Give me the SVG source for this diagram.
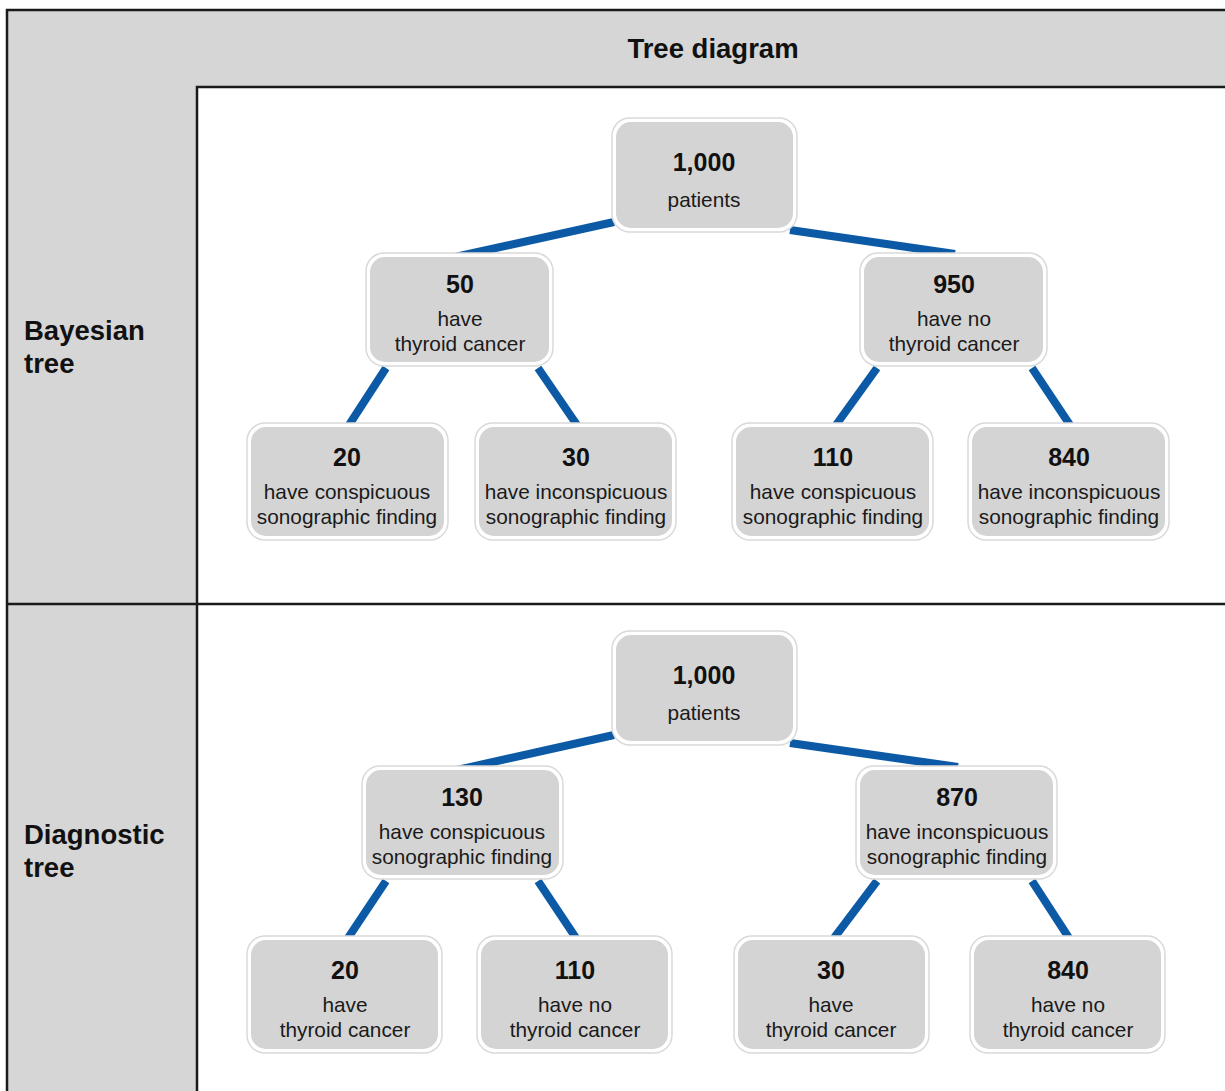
<svg xmlns="http://www.w3.org/2000/svg" width="1225" height="1091" viewBox="0 0 1225 1091">
<style>
.panel{fill:#d6d6d6}
.frame{fill:none;stroke:#1a1a1a;stroke-width:2.5}
.node rect.o{fill:#ffffff;stroke:#d9d9d9;stroke-width:1.5}
.node rect.i{fill:#d4d4d4}
.num{font-family:"Liberation Sans",Arial,sans-serif;font-weight:bold;font-size:25px;fill:#111;text-anchor:middle}
.lbl{font-family:"Liberation Sans",Arial,sans-serif;font-size:20.8px;fill:#1a1a1a;text-anchor:middle}
.hdr{font-family:"Liberation Sans",Arial,sans-serif;font-weight:bold;font-size:27.5px;fill:#111}
.edge{stroke:#0c5aa6;stroke-width:8;stroke-linecap:butt}
</style>
<rect x="0" y="0" width="1225" height="1091" fill="#ffffff"/>
<g id="frame">
<rect class="panel" x="7" y="10" width="1218" height="77"/>
<rect class="panel" x="7" y="10" width="190" height="1081"/>
<path class="frame" d="M7,1091 V10 H1225 M197,1091 V87 H1225 M7,604 H1225"/>
<text class="hdr" x="713" y="58" text-anchor="middle">Tree diagram</text>
<text class="hdr" x="24" y="340">Bayesian</text>
<text class="hdr" x="24" y="373">tree</text>
<text class="hdr" x="24" y="844">Diagnostic</text>
<text class="hdr" x="24" y="877">tree</text>
</g>
<g id="connectors">
<line class="edge" x1="614" y1="222" x2="455" y2="257"/>
<line class="edge" x1="790" y1="230" x2="955" y2="254"/>
<line class="edge" x1="386" y1="368" x2="349" y2="425"/>
<line class="edge" x1="538" y1="368" x2="577" y2="425"/>
<line class="edge" x1="877" y1="368" x2="836" y2="425"/>
<line class="edge" x1="1032" y1="368" x2="1070" y2="425"/>
<line class="edge" x1="614" y1="735" x2="457" y2="770"/>
<line class="edge" x1="790" y1="743" x2="958" y2="767"/>
<line class="edge" x1="386" y1="881" x2="348" y2="938"/>
<line class="edge" x1="538" y1="881" x2="576" y2="938"/>
<line class="edge" x1="877" y1="881" x2="834" y2="938"/>
<line class="edge" x1="1032" y1="881" x2="1069" y2="938"/>
</g>
<g id="b-root" class="node"><rect class="o" x="612" y="118" width="185" height="114" rx="18"/><rect class="i" x="616" y="122" width="177" height="106" rx="15"/><text class="num" x="704" y="171">1,000</text><text class="lbl" x="704" y="207">patients</text></g>
<g id="b-50" class="node"><rect class="o" x="366" y="253" width="187" height="113" rx="18"/><rect class="i" x="370" y="257" width="179" height="105" rx="15"/><text class="num" x="460" y="293">50</text><text class="lbl" x="460" y="326">have</text><text class="lbl" x="460" y="351">thyroid cancer</text></g>
<g id="b-950" class="node"><rect class="o" x="860" y="253" width="187" height="113" rx="18"/><rect class="i" x="864" y="257" width="179" height="105" rx="15"/><text class="num" x="954" y="293">950</text><text class="lbl" x="954" y="326">have no</text><text class="lbl" x="954" y="351">thyroid cancer</text></g>
<g id="b-20" class="node"><rect class="o" x="247" y="423" width="201" height="117" rx="18"/><rect class="i" x="251" y="427" width="193" height="109" rx="15"/><text class="num" x="347" y="466">20</text><text class="lbl" x="347" y="499">have conspicuous</text><text class="lbl" x="347" y="524">sonographic finding</text></g>
<g id="b-30" class="node"><rect class="o" x="475" y="423" width="201" height="117" rx="18"/><rect class="i" x="479" y="427" width="193" height="109" rx="15"/><text class="num" x="576" y="466">30</text><text class="lbl" x="576" y="499">have inconspicuous</text><text class="lbl" x="576" y="524">sonographic finding</text></g>
<g id="b-110" class="node"><rect class="o" x="732" y="423" width="201" height="117" rx="18"/><rect class="i" x="736" y="427" width="193" height="109" rx="15"/><text class="num" x="833" y="466">110</text><text class="lbl" x="833" y="499">have conspicuous</text><text class="lbl" x="833" y="524">sonographic finding</text></g>
<g id="b-840" class="node"><rect class="o" x="968" y="423" width="201" height="117" rx="18"/><rect class="i" x="972" y="427" width="193" height="109" rx="15"/><text class="num" x="1069" y="466">840</text><text class="lbl" x="1069" y="499">have inconspicuous</text><text class="lbl" x="1069" y="524">sonographic finding</text></g>
<g id="d-root" class="node"><rect class="o" x="612" y="631" width="185" height="114" rx="18"/><rect class="i" x="616" y="635" width="177" height="106" rx="15"/><text class="num" x="704" y="684">1,000</text><text class="lbl" x="704" y="720">patients</text></g>
<g id="d-130" class="node"><rect class="o" x="362" y="766" width="201" height="113" rx="18"/><rect class="i" x="366" y="770" width="193" height="105" rx="15"/><text class="num" x="462" y="806">130</text><text class="lbl" x="462" y="839">have conspicuous</text><text class="lbl" x="462" y="864">sonographic finding</text></g>
<g id="d-870" class="node"><rect class="o" x="856" y="766" width="201" height="113" rx="18"/><rect class="i" x="860" y="770" width="193" height="105" rx="15"/><text class="num" x="957" y="806">870</text><text class="lbl" x="957" y="839">have inconspicuous</text><text class="lbl" x="957" y="864">sonographic finding</text></g>
<g id="d-20" class="node"><rect class="o" x="247" y="936" width="195" height="117" rx="18"/><rect class="i" x="251" y="940" width="187" height="109" rx="15"/><text class="num" x="345" y="979">20</text><text class="lbl" x="345" y="1012">have</text><text class="lbl" x="345" y="1037">thyroid cancer</text></g>
<g id="d-110" class="node"><rect class="o" x="477" y="936" width="195" height="117" rx="18"/><rect class="i" x="481" y="940" width="187" height="109" rx="15"/><text class="num" x="575" y="979">110</text><text class="lbl" x="575" y="1012">have no</text><text class="lbl" x="575" y="1037">thyroid cancer</text></g>
<g id="d-30" class="node"><rect class="o" x="734" y="936" width="195" height="117" rx="18"/><rect class="i" x="738" y="940" width="187" height="109" rx="15"/><text class="num" x="831" y="979">30</text><text class="lbl" x="831" y="1012">have</text><text class="lbl" x="831" y="1037">thyroid cancer</text></g>
<g id="d-840" class="node"><rect class="o" x="970" y="936" width="195" height="117" rx="18"/><rect class="i" x="974" y="940" width="187" height="109" rx="15"/><text class="num" x="1068" y="979">840</text><text class="lbl" x="1068" y="1012">have no</text><text class="lbl" x="1068" y="1037">thyroid cancer</text></g>
</svg>
